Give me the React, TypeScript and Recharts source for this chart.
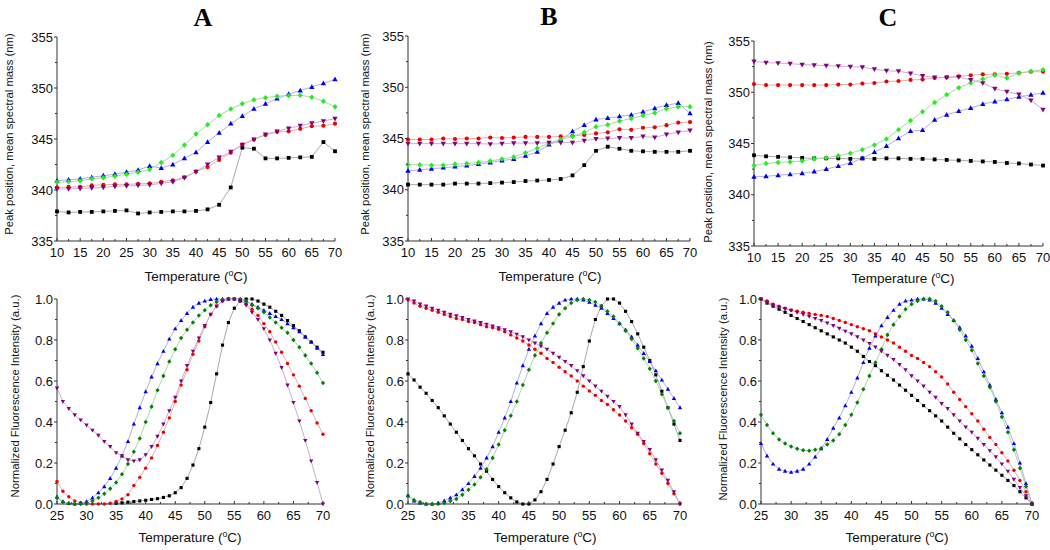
import { LineChart, Line, XAxis, YAxis } from "recharts"

// temperatures (°C)
const tempTop = [10, 12.5, 15, 17.5, 20, 22.5, 25, 27.5, 30, 32.5, 35, 37.5, 40, 42.5, 45, 47.5, 50, 52.5, 55, 57.5, 60, 62.5, 65, 67.5, 70]
const tempBottom = [
  25, 26, 27, 28, 29, 30, 31, 32, 33, 34, 35, 36, 37, 38, 39, 40, 41, 42, 43, 44, 45, 46, 47,
  48, 49, 50, 51, 52, 53, 54, 55, 56, 57, 58, 59, 60, 61, 62, 63, 64, 65, 66, 67, 68, 69, 70,
]

// axis ticks
const topXMajor = [10, 15, 20, 25, 30, 35, 40, 45, 50, 55, 60, 65, 70]
const topXMinor = [12.5, 17.5, 22.5, 27.5, 32.5, 37.5, 42.5, 47.5, 52.5, 57.5, 62.5, 67.5]
const topYMajor = [335, 340, 345, 350, 355]
const topYMinor = [337.5, 342.5, 347.5, 352.5]
const bottomXMajor = [25, 30, 35, 40, 45, 50, 55, 60, 65, 70]
const bottomXMinor = [27.5, 32.5, 37.5, 42.5, 47.5, 52.5, 57.5, 62.5, 67.5]
const bottomYMajor = [0, 0.2, 0.4, 0.6, 0.8, 1.0]
const bottomYMinor = [0.1, 0.3, 0.5, 0.7, 0.9]

// Panel A, peak position (nm)
const topABlack = [337.9, 337.8, 337.85, 337.85, 337.9, 337.95, 338.0, 337.7, 337.8, 337.85, 337.9, 337.9, 337.95, 338.1, 338.55, 340.25, 344.15, 344.05, 343.1, 343.1, 343.15, 343.2, 343.25, 344.7, 343.8]
const topARed = [340.25, 340.3, 340.3, 340.45, 340.5, 340.55, 340.55, 340.6, 340.65, 340.8, 340.95, 341.25, 341.8, 342.25, 342.95, 343.65, 344.45, 344.95, 345.4, 345.7, 345.75, 346.0, 346.25, 346.3, 346.5]
const topABlue = [340.9, 341.0, 341.1, 341.25, 341.4, 341.55, 341.75, 341.95, 342.35, 342.15, 342.5, 343.1, 343.7, 344.7, 345.6, 346.5, 347.25, 347.95, 348.45, 348.95, 349.4, 349.75, 350.1, 350.45, 350.85]
const topAGreen = [340.75, 340.8, 340.9, 341.1, 341.2, 341.35, 341.55, 341.75, 342.0, 342.7, 343.4, 344.4, 345.5, 346.4, 347.3, 347.95, 348.45, 348.85, 349.05, 349.2, 349.25, 349.3, 349.1, 348.7, 348.15]
const topAPurple = [340.1, 340.1, 340.15, 340.2, 340.25, 340.35, 340.4, 340.45, 340.5, 340.65, 340.8, 341.2, 341.8, 342.5, 343.2, 343.75, 344.45, 344.95, 345.45, 345.75, 346.05, 346.3, 346.55, 346.75, 347.0]

// Panel B, peak position (nm)
const topBBlack = [340.5, 340.5, 340.5, 340.5, 340.6, 340.6, 340.6, 340.65, 340.7, 340.75, 340.85, 340.9, 340.95, 341.05, 341.4, 342.4, 343.8, 344.2, 344.0, 343.8, 343.75, 343.7, 343.7, 343.7, 343.8]
const topBRed = [344.9, 344.9, 344.9, 345.0, 344.95, 345.0, 345.0, 345.1, 345.05, 345.1, 345.15, 345.15, 345.15, 345.2, 345.25, 345.35, 345.5, 345.6, 345.9, 345.85, 346.05, 346.1, 346.3, 346.55, 346.6]
const topBBlue = [341.85, 341.95, 342.05, 342.15, 342.25, 342.35, 342.5, 342.65, 342.85, 343.0, 343.3, 343.7, 344.4, 344.85, 345.7, 346.3, 346.85, 347.0, 347.15, 347.3, 347.6, 347.95, 348.25, 348.45, 347.45]
const topBGreen = [342.45, 342.45, 342.4, 342.4, 342.5, 342.55, 342.65, 342.8, 343.0, 343.2, 343.6, 344.05, 344.55, 344.9, 345.2, 345.6, 346.15, 346.35, 346.7, 346.95, 347.25, 347.5, 347.9, 348.1, 348.1]
const topBPurple = [344.5, 344.5, 344.5, 344.5, 344.5, 344.5, 344.5, 344.45, 344.5, 344.55, 344.55, 344.55, 344.6, 344.6, 344.6, 344.8, 344.95, 345.0, 345.05, 345.05, 345.2, 345.1, 345.4, 345.6, 345.8]

// Panel C, peak position (nm)
const topCBlack = [343.85, 343.75, 343.7, 343.65, 343.6, 343.55, 343.55, 343.55, 343.5, 343.55, 343.5, 343.55, 343.55, 343.5, 343.5, 343.45, 343.4, 343.35, 343.3, 343.25, 343.2, 343.1, 343.05, 342.95, 342.85]
const topCRed = [350.8, 350.7, 350.7, 350.7, 350.7, 350.7, 350.7, 350.75, 350.75, 350.85, 350.9, 351.05, 351.1, 351.2, 351.25, 351.4, 351.45, 351.55, 351.65, 351.75, 351.75, 351.8, 351.9, 352.0, 352.0]
const topCBlue = [341.75, 341.8, 341.9, 342.0, 342.1, 342.25, 342.5, 342.8, 343.1, 343.55, 344.15, 344.75, 345.5, 346.2, 346.3, 347.3, 347.8, 348.15, 348.45, 348.85, 349.1, 349.3, 349.55, 349.75, 349.95]
const topCGreen = [342.85, 343.05, 343.15, 343.2, 343.3, 343.5, 343.6, 343.8, 344.05, 344.4, 344.85, 345.45, 346.35, 347.25, 348.1, 349.0, 349.75, 350.45, 350.9, 351.3, 351.65, 351.4, 351.85, 352.05, 352.2]
const topCPurple = [353.0, 352.9, 352.85, 352.8, 352.7, 352.65, 352.6, 352.55, 352.5, 352.45, 352.25, 352.1, 352.05, 351.85, 351.6, 351.45, 351.45, 351.5, 351.2, 350.9, 350.35, 350.05, 349.8, 349.2, 348.3]

// Panel A, normalized fluorescence intensity
const botABlack = [
  null, null, null, null, null, null, null, null, null, null,
  0.004, 0.006, 0.009, 0.012, 0.015, 0.018, 0.022, 0.026, 0.032, 0.04,
  0.055, 0.08, 0.125, 0.19, 0.27, 0.375, 0.495, 0.635, 0.775, 0.885,
  0.955, 0.99, 1.0, 1.0, 0.99, 0.975, 0.96, 0.94, 0.92, 0.895,
  0.87, 0.845, 0.815, 0.79, 0.765, 0.74,
]
const botARed = [
  0.11, 0.062, 0.035, 0.015, 0.006, 0.0, 0.0, 0.0, 0.0, 0.004,
  0.012, 0.025, 0.045, 0.09, 0.13, 0.175, 0.225, 0.285, 0.35, 0.42,
  0.5, 0.58, 0.655, 0.73, 0.795, 0.865, 0.925, 0.965, 0.99, 1.0,
  1.0, 0.995, 0.975, 0.95, 0.92, 0.88, 0.84, 0.79, 0.74, 0.685,
  0.63, 0.575, 0.515, 0.455, 0.395, 0.34,
]
const botABlue = [
  0.035, 0.012, 0.003, 0.0, 0.004, 0.012, 0.03, 0.055, 0.085, 0.125,
  0.175, 0.235, 0.305, 0.39, 0.47, 0.548, 0.62, 0.685, 0.745, 0.805,
  0.855, 0.895, 0.93, 0.96, 0.98, 0.99, 0.998, 1.0, 1.0, 1.0,
  1.0, 0.995, 0.99, 0.975, 0.96, 0.945, 0.93, 0.915, 0.9, 0.88,
  0.86, 0.84, 0.815, 0.79, 0.76, 0.73,
]
const botAGreen = [
  0.03, 0.01, 0.003, 0.0, 0.0, 0.005, 0.015, 0.03, 0.05, 0.075,
  0.105, 0.145, 0.195, 0.255, 0.32, 0.4, 0.475, 0.555, 0.625, 0.695,
  0.755, 0.81, 0.85, 0.885, 0.92, 0.945, 0.97, 0.985, 0.995, 1.0,
  1.0, 1.0, 0.99, 0.97, 0.955, 0.935, 0.91, 0.885, 0.86, 0.835,
  0.8, 0.765, 0.725, 0.685, 0.64, 0.59,
]
const botAPurple = [
  0.565, 0.5, 0.465, 0.435, 0.41, 0.385, 0.36, 0.335, 0.305, 0.28,
  0.25, 0.235, 0.215, 0.21, 0.215, 0.24, 0.28, 0.33, 0.39, 0.455,
  0.52, 0.6, 0.675, 0.745, 0.81, 0.87, 0.925, 0.965, 0.99, 1.0,
  1.0, 0.995, 0.97, 0.935, 0.9, 0.855, 0.8, 0.735, 0.665, 0.58,
  0.495, 0.405, 0.31, 0.21, 0.105, 0.0,
]

// Panel B, normalized fluorescence intensity
const botBBlack = [
  0.635, 0.605, 0.57, 0.54, 0.505, 0.47, 0.43, 0.39, 0.35, 0.31,
  0.27, 0.235, 0.195, 0.16, 0.12, 0.085, 0.055, 0.03, 0.01, 0.0,
  0.0, 0.02, 0.06, 0.12, 0.195, 0.28, 0.36, 0.445, 0.545, 0.67,
  0.795, 0.9, 0.965, 1.0, 1.0, 0.98, 0.94, 0.89, 0.83, 0.765,
  0.7, 0.63, 0.55, 0.47, 0.39, 0.31,
]
const botBRed = [
  0.995, 0.98, 0.965, 0.955, 0.945, 0.935, 0.925, 0.915, 0.905, 0.9,
  0.89, 0.885, 0.875, 0.865, 0.86, 0.852, 0.84, 0.825, 0.81, 0.795,
  0.776, 0.755, 0.735, 0.71, 0.69, 0.667, 0.645, 0.625, 0.6, 0.575,
  0.551, 0.53, 0.505, 0.485, 0.46, 0.434, 0.405, 0.372, 0.34, 0.295,
  0.245, 0.195, 0.15, 0.1, 0.05, 0.0,
]
const botBBlue = [
  0.04, 0.015, 0.005, 0.0, 0.0, 0.005, 0.015, 0.03, 0.045, 0.07,
  0.1, 0.135, 0.175, 0.225, 0.28, 0.35, 0.42, 0.5, 0.59, 0.675,
  0.755, 0.82, 0.88, 0.93, 0.96, 0.98, 0.995, 1.0, 1.0, 0.995,
  0.985, 0.97, 0.955, 0.93, 0.905, 0.88, 0.85, 0.815, 0.775, 0.735,
  0.695, 0.65, 0.605, 0.56, 0.515, 0.47,
]
const botBGreen = [
  0.04, 0.02, 0.01, 0.0, 0.0, 0.0, 0.005, 0.015, 0.025, 0.045,
  0.07, 0.095, 0.13, 0.17, 0.225, 0.29, 0.36, 0.43, 0.5, 0.58,
  0.655, 0.725, 0.785, 0.835, 0.88, 0.925, 0.955, 0.98, 0.995, 1.0,
  0.995, 0.985, 0.965, 0.94, 0.915, 0.88, 0.845, 0.805, 0.76, 0.71,
  0.66, 0.6, 0.535, 0.47, 0.405, 0.345,
]
const botBPurple = [
  1.0, 0.99, 0.975, 0.965, 0.955, 0.945, 0.935, 0.925, 0.918, 0.91,
  0.9, 0.893, 0.885, 0.877, 0.868, 0.86, 0.85, 0.84, 0.828, 0.815,
  0.8, 0.785, 0.77, 0.755, 0.735, 0.715, 0.695, 0.675, 0.65, 0.625,
  0.6, 0.575, 0.55, 0.525, 0.5, 0.475, 0.435, 0.39, 0.345, 0.305,
  0.265, 0.215, 0.165, 0.115, 0.06, 0.0,
]

// Panel C, normalized fluorescence intensity
const botCBlack = [
  1.0, 0.98, 0.965, 0.95, 0.935, 0.92, 0.905, 0.89, 0.875, 0.86,
  0.845, 0.83, 0.815, 0.8, 0.785, 0.765, 0.745, 0.72, 0.695, 0.675,
  0.65, 0.628, 0.605, 0.58, 0.555, 0.53, 0.505, 0.48, 0.455, 0.43,
  0.405, 0.375, 0.345, 0.318, 0.29, 0.265, 0.24, 0.215, 0.19, 0.165,
  0.14, 0.115, 0.09, 0.06, 0.03, 0.0,
]
const botCRed = [
  1.0, 0.99, 0.975, 0.965, 0.955, 0.945, 0.94, 0.935, 0.93, 0.925,
  0.92, 0.915, 0.905, 0.895, 0.885, 0.875, 0.865, 0.855, 0.845, 0.83,
  0.815, 0.8, 0.785, 0.765, 0.745, 0.725, 0.71, 0.69, 0.67, 0.645,
  0.62, 0.585, 0.545, 0.51, 0.475, 0.44, 0.405, 0.365, 0.325, 0.29,
  0.25, 0.21, 0.165, 0.115, 0.06, 0.0,
]
const botCBlue = [
  0.295, 0.235, 0.195, 0.17, 0.16, 0.155, 0.16, 0.17, 0.195, 0.23,
  0.27, 0.315, 0.37, 0.42, 0.48, 0.545, 0.615, 0.69, 0.76, 0.82,
  0.87, 0.91, 0.945, 0.975, 0.99, 0.995, 1.0, 1.0, 0.995, 0.98,
  0.955, 0.925, 0.895, 0.86, 0.82, 0.77, 0.71, 0.645, 0.58, 0.51,
  0.445, 0.375, 0.295, 0.2, 0.1, 0.0,
]
const botCGreen = [
  0.435, 0.385, 0.345, 0.315, 0.295, 0.28, 0.27, 0.262, 0.26, 0.265,
  0.272, 0.29, 0.31, 0.34, 0.385, 0.435, 0.495, 0.56, 0.625, 0.69,
  0.755, 0.825, 0.875, 0.915, 0.95, 0.975, 0.99, 1.0, 1.0, 0.99,
  0.965, 0.935, 0.895, 0.85, 0.8, 0.75, 0.685, 0.625, 0.57, 0.5,
  0.425, 0.35, 0.265, 0.175, 0.085, 0.0,
]
const botCPurple = [
  1.0, 0.985, 0.97, 0.96, 0.952, 0.945, 0.935, 0.925, 0.915, 0.905,
  0.895, 0.883, 0.87, 0.857, 0.843, 0.83, 0.815, 0.8, 0.783, 0.765,
  0.745, 0.725, 0.705, 0.68, 0.655, 0.625, 0.6, 0.575, 0.545, 0.52,
  0.49, 0.465, 0.435, 0.405, 0.375, 0.35, 0.32, 0.29, 0.26, 0.23,
  0.195, 0.16, 0.12, 0.08, 0.04, 0.0,
]

const AXIS = "#333"
const TEXT = "#111"
const FONT = '"Liberation Sans", Arial, sans-serif'
const PAD_L = 50
const PAD_T = 10
const PAD_R = 16
const PAD_B = 26

type Shape = "square" | "circle" | "up" | "down" | "diamond"

interface SeriesSpec {
  name: string
  values: (number | null)[]
  shape: Shape
  fill: string
  line: string
}

// k scales the marker size (top panels use bigger symbols than the bottom ones)
function makeDot(shape: Shape, fill: string, k: number) {
  return (p: any) => {
    const key = `dot-${p.index}`
    const { cx, cy } = p
    if (!Number.isFinite(cx) || !Number.isFinite(cy) || p.value == null) return <g key={key} />
    if (shape === "square") {
      const h = 2 * k
      return <rect key={key} x={cx - h} y={cy - h} width={2 * h} height={2 * h} fill={fill} />
    }
    if (shape === "circle") return <circle key={key} cx={cx} cy={cy} r={2.2 * k} fill={fill} />
    if (shape === "up")
      return <path key={key} d={`M${cx},${cy - 3 * k}L${cx + 2.8 * k},${cy + 2 * k}L${cx - 2.8 * k},${cy + 2 * k}Z`} fill={fill} />
    if (shape === "down")
      return <path key={key} d={`M${cx},${cy + 3 * k}L${cx + 2.8 * k},${cy - 2 * k}L${cx - 2.8 * k},${cy - 2 * k}Z`} fill={fill} />
    return <path key={key} d={`M${cx},${cy - 2.9 * k}L${cx + 2.7 * k},${cy}L${cx},${cy + 2.9 * k}L${cx - 2.7 * k},${cy}Z`} fill={fill} />
  }
}

interface PanelProps {
  left: number
  top: number
  plotW: number
  plotH: number
  temps: number[]
  series: SeriesSpec[]
  xDomain: [number, number]
  xMajor: number[]
  xMinor: number[]
  yDomain: [number, number]
  yMajor: number[]
  yMinor: number[]
  yDigits: number
  markerScale: number
}

function Panel(p: PanelProps) {
  const rows = p.temps.map((t, i) => {
    const row: Record<string, number | null> = { t }
    p.series.forEach((s) => {
      row[s.name] = s.values[i]
    })
    return row
  })
  const axisY = PAD_T + p.plotH
  const axisX = PAD_L

  // x ticks point up into the plot, y ticks point out to the left
  const xTick = (props: any) => {
    const v = props.payload.value
    const x = props.x
    const major = p.xMajor.includes(v)
    return (
      <g>
        <line x1={x} x2={x} y1={axisY} y2={axisY - (major ? 3 : 2)} stroke={AXIS} />
        {major && (
          <text x={x} y={axisY + 16} textAnchor="middle" fontSize={13} fontFamily={FONT} fill={TEXT}>
            {v}
          </text>
        )}
      </g>
    )
  }
  const yTick = (props: any) => {
    const v = props.payload.value
    const y = props.y
    const major = p.yMajor.some((m) => Math.abs(m - v) < 1e-6)
    return (
      <g>
        <line x1={axisX - (major ? 3 : 2)} x2={axisX} y1={y} y2={y} stroke={AXIS} />
        {major && (
          <text x={axisX - 4} y={y + 4.5} textAnchor="end" fontSize={13} fontFamily={FONT} fill={TEXT}>
            {v.toFixed(p.yDigits)}
          </text>
        )}
      </g>
    )
  }

  return (
    <div style={{ position: "absolute", left: p.left - PAD_L, top: p.top - PAD_T }}>
      <LineChart
        width={PAD_L + p.plotW + PAD_R}
        height={PAD_T + p.plotH + PAD_B}
        data={rows}
        margin={{ top: PAD_T, right: PAD_R, bottom: 0, left: 0 }}
      >
        <XAxis
          dataKey="t"
          type="number"
          domain={p.xDomain}
          ticks={[...p.xMajor, ...p.xMinor].sort((a, b) => a - b)}
          interval={0}
          height={PAD_B}
          tickSize={0}
          tickMargin={0}
          tickLine={false}
          axisLine={{ stroke: AXIS }}
          tick={xTick}
        />
        <YAxis
          type="number"
          domain={p.yDomain}
          ticks={[...p.yMajor, ...p.yMinor].sort((a, b) => a - b)}
          interval={0}
          width={PAD_L}
          tickSize={0}
          tickMargin={0}
          tickLine={false}
          axisLine={{ stroke: AXIS }}
          tick={yTick}
        />
        {p.series.map((s) => (
          <Line
            key={s.name}
            dataKey={s.name}
            type="linear"
            stroke={s.line}
            strokeWidth={1}
            dot={makeDot(s.shape, s.fill, p.markerScale)}
            activeDot={false}
            isAnimationActive={false}
          />
        ))}
      </LineChart>
    </div>
  )
}

function series(
  black: (number | null)[],
  red: (number | null)[],
  blue: (number | null)[],
  green: (number | null)[],
  purple: (number | null)[],
  greenFill: string,
): SeriesSpec[] {
  return [
    { name: "black", values: black, shape: "square", fill: "#000000", line: "#aaaaaa" },
    { name: "red", values: red, shape: "circle", fill: "#ee0000", line: "#e0b0b0" },
    { name: "blue", values: blue, shape: "up", fill: "#0000ee", line: "#b0b0dd" },
    { name: "green", values: green, shape: "diamond", fill: greenFill, line: "#b0d4b0" },
    { name: "purple", values: purple, shape: "down", fill: "#800080", line: "#c8b0c8" },
  ]
}

function TempLabel({ x, y }: { x: number; y: number }) {
  return (
    <div
      style={{
        position: "absolute",
        left: x,
        top: y,
        transform: "translate(-50%, -50%)",
        fontFamily: FONT,
        fontSize: 13.5,
        lineHeight: 1,
        color: TEXT,
        whiteSpace: "nowrap",
      }}
    >
      Temperature (<sup style={{ fontSize: "0.65em", lineHeight: 0, verticalAlign: "0.6em" }}>o</sup>C)
    </div>
  )
}

function YLabel({ x, y, text }: { x: number; y: number; text: string }) {
  return (
    <div
      style={{
        position: "absolute",
        left: x,
        top: y,
        transform: "translate(-50%, -50%) rotate(-90deg)",
        fontFamily: FONT,
        fontSize: 11.3,
        lineHeight: 1,
        color: TEXT,
        whiteSpace: "nowrap",
      }}
    >
      {text}
    </div>
  )
}

function Title({ x, y, text }: { x: number; y: number; text: string }) {
  return (
    <div
      style={{
        position: "absolute",
        left: x,
        top: y,
        transform: "translate(-50%, -50%)",
        fontFamily: '"Liberation Serif", "Times New Roman", serif',
        fontWeight: "bold",
        fontSize: 26,
        lineHeight: 1,
        color: "#000",
      }}
    >
      {text}
    </div>
  )
}

const PEAK = "Peak position, mean spectral mass (nm)"
const NFI = "Normalized Fluorescence Intensity (a.u.)"

export default function App() {
  const top = { temps: tempTop, xDomain: [10, 70] as [number, number], xMajor: topXMajor, xMinor: topXMinor, yDomain: [335, 355] as [number, number], yMajor: topYMajor, yMinor: topYMinor, yDigits: 0, markerScale: 0.95 }
  const bottom = { temps: tempBottom, xDomain: [25, 70] as [number, number], xMajor: bottomXMajor, xMinor: bottomXMinor, yDomain: [0, 1] as [number, number], yMajor: bottomYMajor, yMinor: bottomYMinor, yDigits: 1, markerScale: 0.78 }
  return (
    <div style={{ position: "absolute", left: 0, top: 0, width: 1050, height: 550, overflow: "hidden", background: "#fff" }}>
      <Title x={203} y={18} text="A" />
      <Title x={549} y={17} text="B" />
      <Title x={888} y={18} text="C" />

      <Panel {...top} left={57} top={37} plotW={278} plotH={204} series={series(topABlack, topARed, topABlue, topAGreen, topAPurple, "#22ee22")} />
      <Panel {...top} left={408} top={36} plotW={282} plotH={205} series={series(topBBlack, topBRed, topBBlue, topBGreen, topBPurple, "#22ee22")} />
      <Panel {...top} left={754} top={41} plotW={289} plotH={205} series={series(topCBlack, topCRed, topCBlue, topCGreen, topCPurple, "#22ee22")} />

      <Panel {...bottom} left={57} top={299} plotW={266} plotH={205} series={series(botABlack, botARed, botABlue, botAGreen, botAPurple, "#008000")} />
      <Panel {...bottom} left={408} top={299} plotW={272} plotH={205} series={series(botBBlack, botBRed, botBBlue, botBGreen, botBPurple, "#008000")} />
      <Panel {...bottom} left={761} top={299} plotW={271} plotH={205} series={series(botCBlack, botCRed, botCBlue, botCGreen, botCPurple, "#008000")} />

      <YLabel x={10} y={134} text={PEAK} />
      <YLabel x={366} y={134} text={PEAK} />
      <YLabel x={709} y={142} text={PEAK} />
      <YLabel x={16} y={396} text={NFI} />
      <YLabel x={371} y={396} text={NFI} />
      <YLabel x={724} y={399} text={NFI} />

      <TempLabel x={196} y={277} />
      <TempLabel x={550} y={277} />
      <TempLabel x={903} y={279} />
      <TempLabel x={190} y={538} />
      <TempLabel x={545} y={538} />
      <TempLabel x={897} y={538} />
    </div>
  )
}
